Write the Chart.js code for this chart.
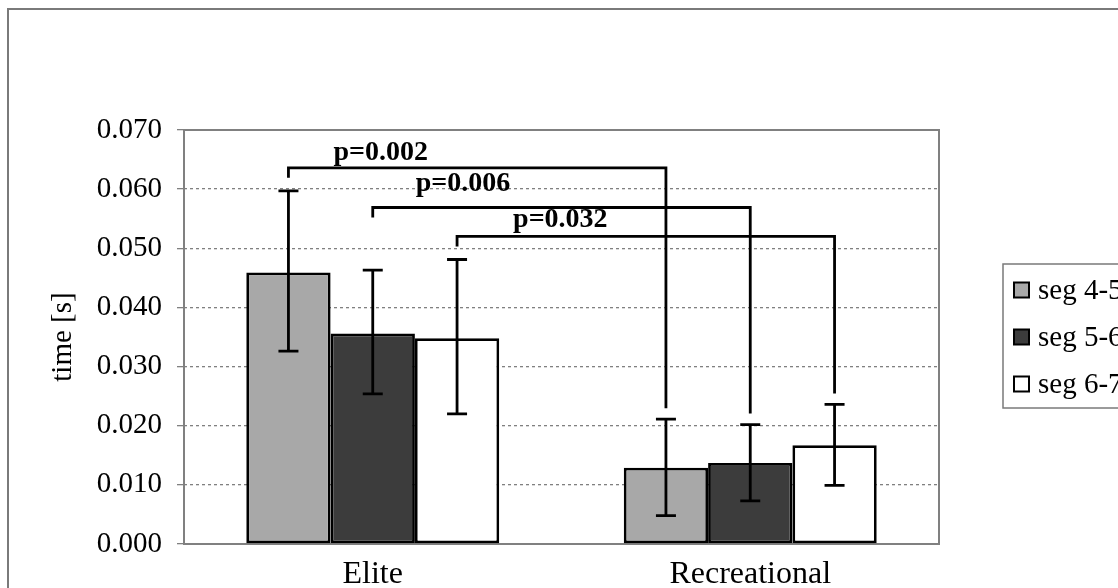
<!DOCTYPE html>
<html>
<head>
<meta charset="utf-8">
<script src="https://cdn.jsdelivr.net/npm/chart.js@4/dist/chart.umd.min.js"></script>
<style>
  html, body { margin: 0; padding: 0; background: #fff; overflow: hidden; }
  #frame { position: absolute; left: 7px; top: 8px; width: 1300px; height: 800px; border: 2px solid #7a7a7a; }
  #chart { position: absolute; left: 0; top: 0; }
</style>
</head>
<body>
<div id="frame"></div>
<canvas id="chart" width="1118" height="588"></canvas>
<script>
// groups and segments
const groups = ['Elite', 'Recreational'];
const segments = ['seg 4-5', 'seg 5-6', 'seg 6-7'];

// mean times per segment [Elite, Recreational]
const seg45 = [0.0459, 0.0129];
const seg56 = [0.0356, 0.0137];
const seg67 = [0.0348, 0.0167];

// error bar ends (upper / lower)
const seg45Hi = [0.0597, 0.0211];
const seg45Lo = [0.0326, 0.0048];
const seg56Hi = [0.0463, 0.0202];
const seg56Lo = [0.0254, 0.0073];
const seg67Hi = [0.0481, 0.0236];
const seg67Lo = [0.0220, 0.0099];

// significance: segment index compared Elite vs Recreational
const sigSegment = [0, 1, 2];
const sigLevel = [0.0636, 0.0569, 0.0520];
const sigLabel = ['p=0.002', 'p=0.006', 'p=0.032'];

const yTicks = [0, 0.01, 0.02, 0.03, 0.04, 0.05, 0.06, 0.07];

const colors = ['#a8a8a8', '#3c3c3c', '#ffffff'];
const serif = "'Liberation Serif', 'Times New Roman', serif";

const hiAll = [seg45Hi, seg56Hi, seg67Hi];
const loAll = [seg45Lo, seg56Lo, seg67Lo];

const extras = {
    id: 'extras',
    beforeDatasetsDraw(chart) {
        // plot frame
        const { ctx, chartArea: a } = chart;
        ctx.save();
        ctx.strokeStyle = '#808080';
        ctx.lineWidth = 2;
        ctx.strokeRect(a.left, a.top, a.right - a.left, a.bottom - a.top);
        ctx.restore();
    },
    afterDatasetsDraw(chart) {
        const { ctx } = chart;
        const y = chart.scales.y;
        ctx.save();
        ctx.strokeStyle = '#000';
        ctx.lineWidth = 2.8;

        // error bars
        hiAll.forEach((hi, i) => {
            const meta = chart.getDatasetMeta(i);
            meta.data.forEach((bar, j) => {
                const yh = y.getPixelForValue(hi[j]);
                const yl = y.getPixelForValue(loAll[i][j]);
                ctx.beginPath();
                ctx.moveTo(bar.x, yh); ctx.lineTo(bar.x, yl);
                ctx.moveTo(bar.x - 10, yh); ctx.lineTo(bar.x + 10, yh);
                ctx.moveTo(bar.x - 10, yl); ctx.lineTo(bar.x + 10, yl);
                ctx.stroke();
            });
        });

        // significance brackets
        const lift = [8, 16, 9];
        const dx = [45, 43, 56];
        ctx.font = 'bold 28px ' + serif;
        ctx.fillStyle = '#000';
        ctx.textBaseline = 'alphabetic';
        sigSegment.forEach((s, k) => {
            const meta = chart.getDatasetMeta(s);
            const x1 = meta.data[0].x;
            const x2 = meta.data[1].x;
            const yl = y.getPixelForValue(sigLevel[k]);
            const e1 = y.getPixelForValue(hiAll[s][0]) - 9;
            const e2 = y.getPixelForValue(hiAll[s][1]) - 11;
            ctx.lineWidth = 2.8;
            ctx.beginPath();
            ctx.moveTo(x1, Math.min(e1, yl + 10));
            ctx.lineTo(x1, yl);
            ctx.lineTo(x2, yl);
            ctx.lineTo(x2, e2);
            ctx.stroke();
            ctx.textAlign = 'left';
            ctx.fillText(sigLabel[k], x1 + dx[k], yl - lift[k]);
        });

        // legend
        ctx.lineWidth = 1.5;
        ctx.strokeStyle = '#7a7a7a';
        ctx.strokeRect(1003, 264, 200, 144);
        ctx.font = '29px ' + serif;
        ctx.textBaseline = 'middle';
        ctx.textAlign = 'left';
        segments.forEach((label, i) => {
            const cy = 290 + i * 47;
            ctx.fillStyle = colors[i];
            ctx.fillRect(1014, cy - 7.5, 15, 15);
            ctx.lineWidth = 2;
            ctx.strokeStyle = '#000';
            ctx.strokeRect(1014, cy - 7.5, 15, 15);
            ctx.fillStyle = '#000';
            ctx.fillText(label, 1038, cy + 1);
        });
        ctx.restore();
    }
};

const series = [seg45, seg56, seg67];

new Chart(document.getElementById('chart'), {
    type: 'bar',
    data: {
        labels: groups,
        datasets: series.map((vals, i) => ({
            label: segments[i],
            data: vals,
            backgroundColor: colors[i],
            borderColor: '#000',
            borderWidth: 2.8,
            borderSkipped: false,
            categoryPercentage: 0.67,
            barPercentage: 1.0
        }))
    },
    options: {
        responsive: false,
        devicePixelRatio: 1,
        animation: false,
        layout: { padding: { left: 46, top: 130, right: 179, bottom: 0 } },
        plugins: {
            legend: { display: false },
            tooltip: { enabled: false }
        },
        scales: {
            x: {
                grid: { display: false },
                border: { display: false },
                ticks: { color: '#000', font: { family: serif, size: 32 }, padding: 3 },
                afterFit: s => { s.height = 44; }
            },
            y: {
                min: 0,
                max: 0.07,
                afterBuildTicks: s => { s.ticks = yTicks.map(v => ({ value: v })); },
                ticks: {
                    color: '#000',
                    font: { family: serif, size: 29 },
                    padding: 15,
                    callback: v => v.toFixed(3)
                },
                grid: { color: '#808080', lineWidth: 1.3, tickLength: 7 },
                border: { display: false, dash: [3, 3] },
                title: {
                    display: true,
                    text: 'time [s]',
                    color: '#000',
                    font: { family: serif, size: 29 },
                    padding: 0
                },
                afterFit: s => { s.width = 138; }
            }
        }
    },
    plugins: [extras]
});
</script>
</body>
</html>
